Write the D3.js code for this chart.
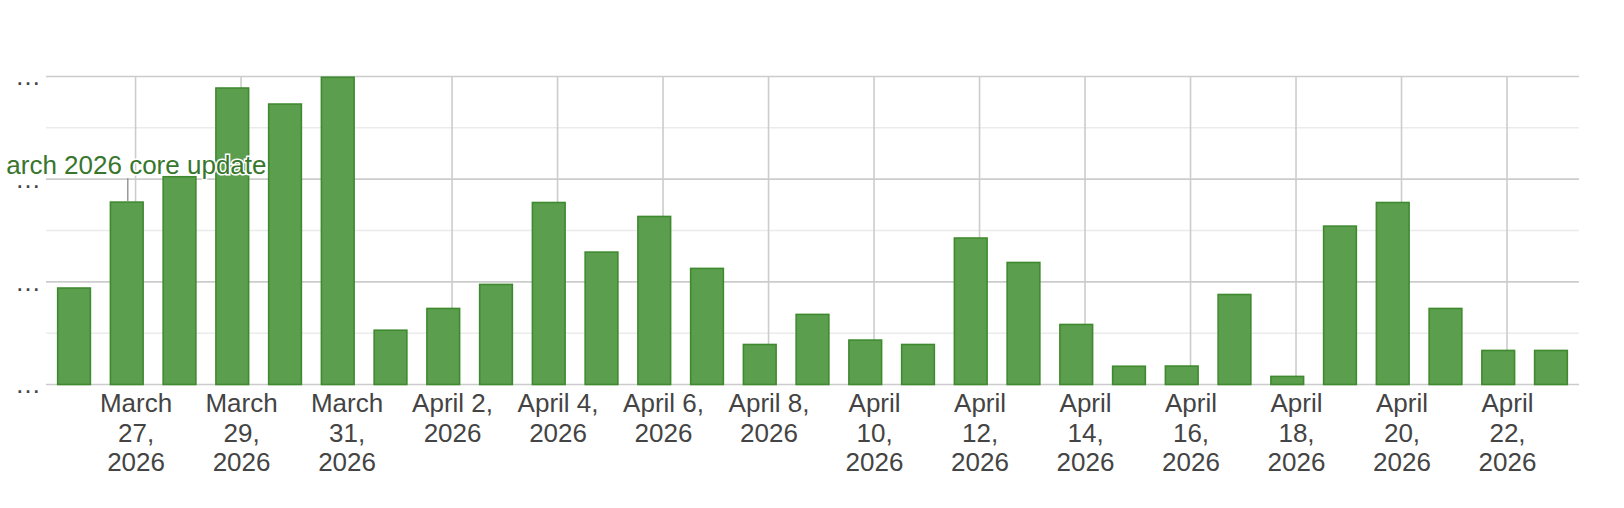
<!DOCTYPE html>
<html>
<head>
<meta charset="utf-8">
<script src="https://cdn.jsdelivr.net/npm/d3@7"></script>
<style>
  body { margin: 0; background: #fff; }
  svg text { font-family: Arial, "Liberation Sans", sans-serif; }
</style>
</head>
<body>
<div id="chart"></div>
<script>
// daily values (y labels in the original are truncated to "…")
var days = [
  "2026-03-26", "2026-03-27", "2026-03-28", "2026-03-29", "2026-03-30", "2026-03-31",
  "2026-04-01", "2026-04-02", "2026-04-03", "2026-04-04", "2026-04-05", "2026-04-06",
  "2026-04-07", "2026-04-08", "2026-04-09", "2026-04-10", "2026-04-11", "2026-04-12",
  "2026-04-13", "2026-04-14", "2026-04-15", "2026-04-16", "2026-04-17", "2026-04-18",
  "2026-04-19", "2026-04-20", "2026-04-21", "2026-04-22", "2026-04-23"
];
var values = [
  94.7, 178.4, 203.1, 289.5, 273.9, 300,
  53.6, 74.8, 98.2, 178, 129.7, 164.4,
  113.8, 39.7, 69, 44, 39.7, 143.4,
  119.6, 59.2, 18.5, 18.7, 88.4, 8.6,
  155, 178, 74.8, 33.9, 33.9
];
var tickLabels = [
  "March 27, 2026", "March 29, 2026", "March 31, 2026", "April 2, 2026",
  "April 4, 2026", "April 6, 2026", "April 8, 2026", "April 10, 2026",
  "April 12, 2026", "April 14, 2026", "April 16, 2026", "April 18, 2026",
  "April 20, 2026", "April 22, 2026"
];
var yMajor = [0, 100, 200, 300];
var yMinor = [50, 150, 250];
var annotationDay = "2026-03-27";
var annotationText = "March 2026 core update";

var width = 1624, height = 508;
var margin = {top: 76.5, right: 45, bottom: 123.5, left: 46};

var parseDay = d3.timeParse("%Y-%m-%d");
var parseTick = d3.timeParse("%B %d, %Y");

var data = days.map(function(d, i) { return {date: parseDay(d), value: values[i]}; });
var tickDates = tickLabels.map(function(t) { return d3.timeHour.offset(parseTick(t), 4); });

var svg = d3.select("#chart").append("svg")
    .attr("width", width)
    .attr("height", height);

var x = d3.scaleTime()
    .domain([d3.timeMinute.offset(data[0].date, -765), d3.timeMinute.offset(data[data.length - 1].date, 765)])
    .range([margin.left, width - margin.right]);
var y = d3.scaleLinear()
    .domain([0, 300])
    .range([height - margin.bottom, margin.top]);

var dayW = x(d3.timeDay.offset(data[0].date, 1)) - x(data[0].date);
var barW = dayW * 0.62;

// gridlines
svg.append("g").selectAll("line.minor")
    .data(yMinor).enter().append("line")
    .attr("x1", margin.left).attr("x2", width - margin.right)
    .attr("y1", function(d) { return y(d); }).attr("y2", function(d) { return y(d); })
    .attr("stroke", "#ebebeb").attr("stroke-width", 1.5);
svg.append("g").selectAll("line.vert")
    .data(tickDates).enter().append("line")
    .attr("x1", function(d) { return x(d); }).attr("x2", function(d) { return x(d); })
    .attr("y1", y(300)).attr("y2", y(0))
    .attr("stroke", "#cccccc").attr("stroke-width", 1.6);
svg.append("g").selectAll("line.major")
    .data(yMajor).enter().append("line")
    .attr("x1", margin.left).attr("x2", width - margin.right)
    .attr("y1", function(d) { return y(d); }).attr("y2", function(d) { return y(d); })
    .attr("stroke", "#cccccc").attr("stroke-width", 1.6);

// bars
svg.append("g").selectAll("rect")
    .data(data).enter().append("rect")
    .attr("x", function(d) { return x(d.date) - barW / 2; })
    .attr("y", function(d) { return y(d.value) + 0.75; })
    .attr("width", barW)
    .attr("height", function(d) { return y(0) - y(d.value) - 0.75; })
    .attr("fill", "#5b9e4e")
    .attr("stroke", "#3f8a2f")
    .attr("stroke-width", 1.6);

// y axis, labels are truncated
var yAxis = svg.append("g")
    .attr("transform", "translate(" + margin.left + ",0)")
    .call(d3.axisLeft(y).tickValues(yMajor).tickSize(0).tickPadding(5).tickFormat(function() { return "…"; }));
yAxis.select(".domain").remove();
yAxis.selectAll("text").attr("font-size", 26).attr("fill", "#444").attr("font-family", null);

// x axis with wrapped labels
var xAxis = svg.append("g")
    .attr("transform", "translate(0," + y(0) + ")")
    .call(d3.axisBottom(x).tickValues(tickDates).tickSize(0)
        .tickFormat(function(d, i) { return tickLabels[i]; }));
xAxis.select(".domain").remove();
xAxis.selectAll("text")
    .attr("font-size", 26).attr("fill", "#444").attr("font-family", null)
    .each(function() { wrap(d3.select(this), 88); });

function wrap(text, maxW) {
  var words = text.text().split(/\s+/), line = [], lines = [];
  text.text(null);
  var t = text.append("tspan");
  words.forEach(function(w) {
    line.push(w);
    t.text(line.join(" "));
    if (t.node().getComputedTextLength() > maxW && line.length > 1) {
      line.pop();
      lines.push(line.join(" "));
      line = [w];
    }
  });
  lines.push(line.join(" "));
  t.remove();
  text.attr("y", null).attr("dy", null);
  lines.forEach(function(l, i) {
    text.append("tspan").attr("x", 0).attr("y", 27.7 + i * 29.6).text(l);
  });
}

// annotation (the original is clipped at the chart's left edge)
svg.append("clipPath").attr("id", "annClip")
  .append("rect").attr("x", 6).attr("y", 0).attr("width", width).attr("height", height);
var ann = data.filter(function(d) { return +d.date === +parseDay(annotationDay); })[0];
var ax = x(ann.date) + 1;
svg.append("line")
    .attr("x1", ax).attr("x2", ax)
    .attr("y1", 178).attr("y2", y(ann.value))
    .attr("stroke", "#999").attr("stroke-width", 1.5);
svg.append("g").attr("clip-path", "url(#annClip)")
  .append("text")
    .attr("x", 266.5).attr("y", 174)
    .attr("text-anchor", "end")
    .attr("font-size", 26)
    .attr("fill", "#38762d")
    .attr("stroke", "#fff").attr("stroke-width", 3)
    .attr("paint-order", "stroke")
    .text(annotationText);
</script>
</body>
</html>
